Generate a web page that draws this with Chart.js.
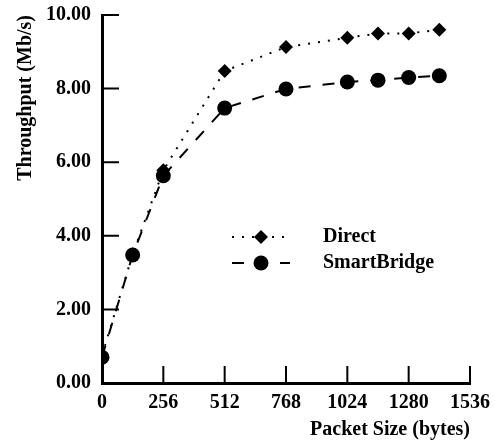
<!DOCTYPE html>
<html>
<head>
<meta charset="utf-8">
<script src="https://cdn.jsdelivr.net/npm/chart.js@4/dist/chart.umd.min.js"></script>
<style>
  html, body { margin: 0; padding: 0; background: #fff; }
  #wrap { width: 495px; height: 443px; }
</style>
</head>
<body>
<div id="wrap"><canvas id="chart"></canvas></div>
<script>
/* ---- data ---- */
const packetSizes     = [0, 128, 256, 512, 768, 1024, 1152, 1280, 1408];
const directMbps      = [0.75, 3.5, 5.78, 8.48, 9.13, 9.38, 9.5, 9.5, 9.6];
const smartBridgeMbps = [0.7, 3.48, 5.63, 7.47, 7.99, 8.18, 8.23, 8.3, 8.35];
const seriesNames     = ['Direct', 'SmartBridge'];
const xTickValues     = [0, 256, 512, 768, 1024, 1280, 1536];
const yTickValues     = [0, 2, 4, 6, 8, 10];

const FONT = { family: "'Liberation Serif', 'Times New Roman', serif", size: 20, weight: 'bold' };
const TICK_LEN = 17;

// tick marks pointing into the plot, like the original
const innerTicks = {
  id: 'innerTicks',
  afterDatasetsDraw(chart) {
    const { ctx, chartArea: a, scales: { x, y } } = chart;
    ctx.save();
    ctx.strokeStyle = '#000';
    ctx.lineWidth = 2;
    ctx.beginPath();
    x.ticks.forEach(t => {
      if (t.value === 0) return;
      const px = x.getPixelForValue(t.value);
      ctx.moveTo(px, a.bottom);
      ctx.lineTo(px, a.bottom - TICK_LEN);
    });
    y.ticks.forEach(t => {
      if (t.value === 0) return;
      const py = y.getPixelForValue(t.value);
      ctx.moveTo(a.left, py);
      ctx.lineTo(a.left + TICK_LEN, py);
    });
    ctx.stroke();
    ctx.restore();
  }
};

// legend: line sample with marker in the middle, text to the right
const lineLegend = {
  id: 'lineLegend',
  afterDatasetsDraw(chart) {
    const { ctx } = chart;
    const x0 = 232, x1 = 290, tx = 323;
    const rows = [237, 263];
    ctx.save();
    chart.data.datasets.forEach((ds, i) => {
      const y = rows[i];
      ctx.strokeStyle = ds.borderColor;
      ctx.lineWidth = ds.borderWidth;
      ctx.setLineDash(ds.borderDash || []);
      ctx.beginPath();
      ctx.moveTo(x0, y);
      ctx.lineTo(x1, y);
      ctx.stroke();
      ctx.setLineDash([]);
      ctx.fillStyle = '#000';
      Chart.helpers.drawPoint(ctx, { pointStyle: ds.pointStyle, radius: ds.pointRadius, borderWidth: 0, rotation: 0 }, (x0 + x1) / 2, y);
      ctx.font = `${FONT.weight} ${FONT.size}px ${FONT.family}`;
      ctx.textBaseline = 'middle';
      ctx.textAlign = 'left';
      ctx.fillText(ds.label, tx, y);
    });
    ctx.restore();
  }
};

new Chart(document.getElementById('chart'), {
  type: 'line',
  data: {
    datasets: [
      {
        label: seriesNames[0],
        data: packetSizes.map((p, i) => ({ x: p, y: directMbps[i] })),
        borderColor: '#000',
        backgroundColor: '#000',
        borderWidth: 2,
        borderDash: [2, 8],
        pointStyle: 'rectRot',
        pointRadius: 7,
        pointBorderWidth: 0,
        tension: 0,
      },
      {
        label: seriesNames[1],
        data: packetSizes.map((p, i) => ({ x: p, y: smartBridgeMbps[i] })),
        borderColor: '#000',
        backgroundColor: '#000',
        borderWidth: 2,
        borderDash: [12, 12],
        pointStyle: 'circle',
        pointRadius: 7.5,
        pointBorderWidth: 0,
        tension: 0,
      },
    ],
  },
  options: {
    responsive: true,
    maintainAspectRatio: false,
    animation: false,
    devicePixelRatio: 1,
    layout: { padding: { top: 15, left: 2, right: 25, bottom: 0 } },
    plugins: { legend: { display: false }, tooltip: { enabled: false } },
    events: [],
    scales: {
      x: {
        type: 'linear',
        min: 0, max: 1536,
        afterBuildTicks: s => { s.ticks = xTickValues.map(v => ({ value: v })); },
        afterFit: s => { s.height = 60; s.paddingLeft = 0; s.paddingRight = 0; },
        grid: { display: false, drawTicks: false },
        border: { display: true, color: '#000', width: 3 },
        ticks: { color: '#000', font: FONT, padding: 8, maxRotation: 0, callback: v => String(v) },
        title: {
          display: true, text: 'Packet Size (bytes)', align: 'end',
          color: '#000', font: FONT, padding: { top: 0, bottom: 1 },
        },
      },
      y: {
        min: 0, max: 10,
        afterBuildTicks: s => { s.ticks = yTickValues.map(v => ({ value: v })); },
        afterFit: s => { s.width = 100; s.paddingTop = 0; s.paddingBottom = 0; },
        grid: { display: false, drawTicks: false },
        border: { display: true, color: '#000', width: 3 },
        ticks: { color: '#000', font: FONT, padding: 11, callback: v => v.toFixed(2) },
        title: {
          display: true, text: 'Throughput (Mb/s)', align: 'end',
          color: '#000', font: FONT, padding: { top: 12, bottom: 0 },
        },
      },
    },
  },
  plugins: [innerTicks, lineLegend],
});
</script>
</body>
</html>
